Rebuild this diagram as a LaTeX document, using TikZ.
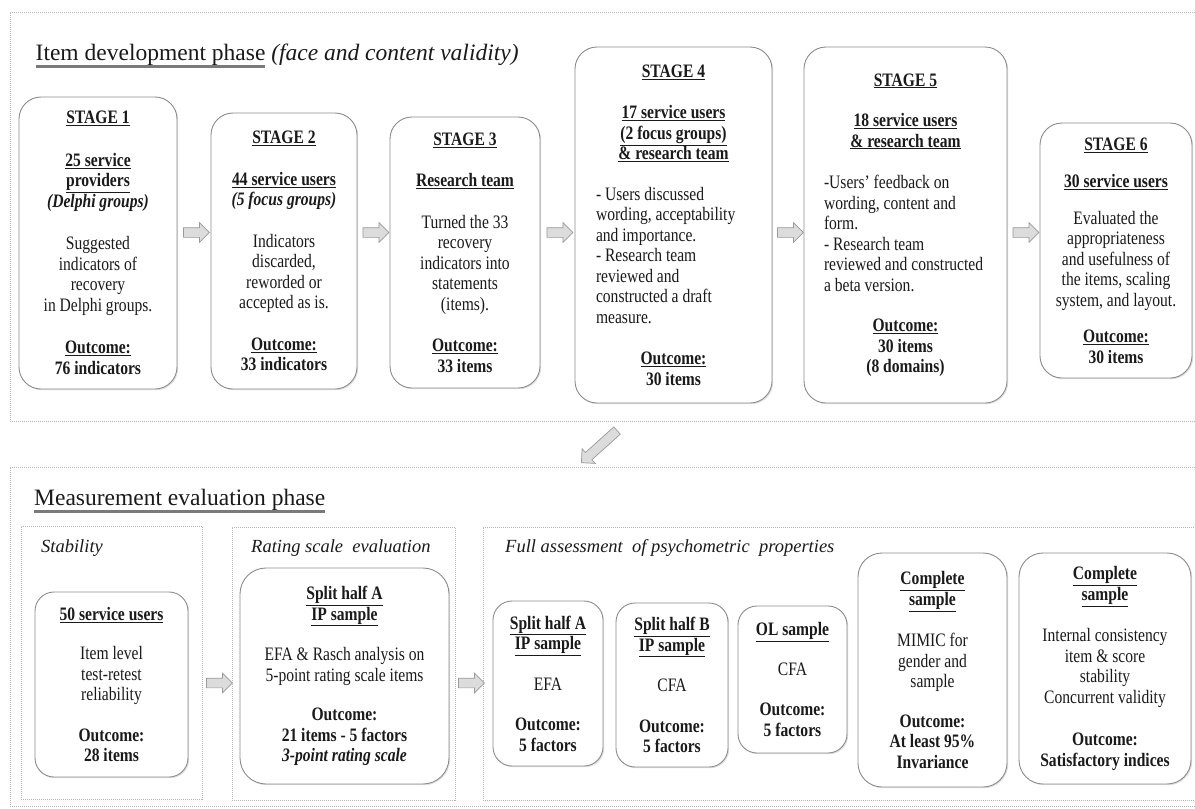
\documentclass[tikz,border=0pt]{standalone}
\usepackage{fontspec}
\setmainfont{Liberation Serif}
\newfontfamily\bodyf{Liberation Serif}[FakeStretch=0.82]
\usetikzlibrary{shapes.arrows,shadows}
\definecolor{boxgray}{HTML}{8C8C8C}
\definecolor{framegray}{HTML}{B4B4B4}
\definecolor{arrowgray}{HTML}{9A9A9A}
\definecolor{arrowfill}{HTML}{DCDCDC}
\definecolor{ulgray}{HTML}{7A7A7A}
\definecolor{txt}{HTML}{1A1A1A}
\newcommand{\ulb}[1]{\underline{\textbf{#1}}}
\newcommand{\lb}[2]{\makebox[#1][l]{#2}}
\newsavebox\gulbox
\newcommand{\gul}[1]{\sbox\gulbox{#1}\rlap{\textcolor{ulgray}{\rule[-7.5pt]{\wd\gulbox}{2.2pt}}}\usebox\gulbox}
\tikzset{
  stagebox/.style={draw=boxgray, line width=0.9pt, rounded corners=22pt, fill=white,
    align=center, inner sep=0pt, text=txt,
    font=\bodyf\fontsize{19}{20.5}\selectfont,
    drop shadow={shadow xshift=1.2pt, shadow yshift=-1.2pt, opacity=0.25}},
  smallbox/.style={stagebox, rounded corners=19pt},
  framebox/.style={draw=framegray, densely dotted, line width=1pt, inner sep=0pt},
  blockarrow/.style={single arrow, draw=arrowgray, fill=arrowfill, line width=0.7pt,
    inner sep=0pt, text height=4.5pt, text depth=4.5pt, text width=0pt,
    minimum height=26pt,
    single arrow head extend=5pt, single arrow head indent=0pt},
  heading/.style={anchor=base west, inner sep=0pt, text=txt,
    font=\fontsize{23.5}{28}\selectfont},
  sublabel/.style={anchor=base west, inner sep=0pt, text=txt,
    font=\itshape\fontsize{18.5}{22}\selectfont},
}
\begin{document}
\begin{tikzpicture}[x=1pt,y=-1pt]
\useasboundingbox (0,0) rectangle (1195,809);
\fill[white] (0,0) rectangle (1195,809);

% ---------- frames ----------
\node[framebox, minimum width=1187pt, minimum height=409pt] (ftop) at (603.5,216.5) {};
\node[framebox, minimum width=1187pt, minimum height=339pt] (fbot) at (603.5,636.5) {};
\node[framebox, minimum width=181pt, minimum height=273pt] (fstab) at (111.5,662.5) {};
\node[framebox, minimum width=223pt, minimum height=273pt] (frate) at (343.5,663.5) {};
\node[framebox, minimum width=714pt, minimum height=273pt] (ffull) at (840,663.5) {};

% ---------- headings ----------
\node[heading] (h1) at (35.5,60) {\gul{Item development phase} \textit{(face and content validity)}};
\node[heading] (h2) at (34,505) {\gul{Measurement evaluation phase}};
\node[sublabel] (l1) at (41,552) {Stability};
\node[sublabel] (l2) at (251,552) {Rating scale \ evaluation};
\node[sublabel] (l3) at (505,552) {Full assessment \ of psychometric \ properties};

% ---------- stages ----------
\node[stagebox, minimum width=158pt, minimum height=292pt] (s1) at (98,243) {%
\ulb{STAGE 1}\\[22pt]
\ulb{25 service}\\ \ulb{providers}\\ \textbf{\textit{(Delphi groups)}}\\[22pt]
Suggested\\ indicators of\\ recovery\\ in Delphi groups.\\[22pt]
\ulb{Outcome:}\\ \textbf{76 indicators}};

\node[stagebox, minimum width=146pt, minimum height=276pt] (s2) at (284,251) {%
\ulb{STAGE 2}\\[21pt]
\ulb{44 service users}\\ \textbf{\textit{(5 focus groups)}}\\[21pt]
Indicators\\ discarded,\\ reworded or\\ accepted as is.\\[21pt]
\ulb{Outcome:}\\ \textbf{33 indicators}};

\node[stagebox, minimum width=150pt, minimum height=271pt] (s3) at (465,252.5) {%
\ulb{STAGE 3}\\[21pt]
\ulb{Research team}\\[21pt]
Turned the 33\\ recovery\\ indicators into\\ statements\\ (items).\\[21pt]
\ulb{Outcome:}\\ \textbf{33 items}};

\node[stagebox, minimum width=197pt, minimum height=356pt] (s4) at (673.5,225) {%
\ulb{STAGE 4}\\[21pt]
\ulb{17 service users}\\ \ulb{(2 focus groups)}\\ \ulb{\& research team}\\[20pt]
\lb{155pt}{- Users discussed}\\ \lb{155pt}{wording, acceptability}\\
\lb{155pt}{and importance.}\\ \lb{155pt}{- Research team}\\
\lb{155pt}{reviewed and}\\ \lb{155pt}{constructed a draft}\\ \lb{155pt}{measure.}\\[21pt]
\ulb{Outcome:}\\ \textbf{30 items}};

\node[stagebox, minimum width=203pt, minimum height=356pt] (s5) at (905.5,225) {%
\ulb{STAGE 5}\\[20pt]
\ulb{18 service users}\\ \ulb{\& research team}\\[21pt]
\lb{163pt}{-Users’ feedback on}\\ \lb{163pt}{wording, content and}\\
\lb{163pt}{form.}\\ \lb{163pt}{- Research team}\\
\lb{163pt}{reviewed and constructed}\\ \lb{163pt}{a beta version.}\\[20pt]
\ulb{Outcome:}\\ \textbf{30 items}\\ \textbf{(8 domains)}};

\node[stagebox, minimum width=152pt, minimum height=255pt] (s6) at (1116,250.5) {%
\ulb{STAGE 6}\\[17pt]
\ulb{30 service users}\\[16pt]
Evaluated the\\ appropriateness\\ and usefulness of\\ the items, scaling\\ system, and layout.\\[16pt]
\ulb{Outcome:}\\ \textbf{30 items}};

% ---------- bottom boxes ----------
\node[smallbox, minimum width=153pt, minimum height=185pt] (b1) at (111.5,684.5) {%
\ulb{50 service users}\\[19pt]
Item level\\ test-retest\\ reliability\\[20pt]
\textbf{Outcome:}\\ \textbf{28 items}};

\node[smallbox, rounded corners=26pt, minimum width=209pt, minimum height=216pt] (b2) at (344.5,676) {%
\ulb{Split half A}\\ \ulb{IP sample}\\[20pt]
EFA \& Rasch analysis on\\ 5-point rating scale items\\[19pt]
\textbf{Outcome:}\\ \textbf{21 items - 5 factors}\\ \textbf{\textit{3-point rating scale}}};

\node[smallbox, minimum width=110pt, minimum height=165pt] (b3) at (548,683.5) {%
\ulb{Split half A}\\ \ulb{IP sample}\\[20pt]
EFA\\[20pt]
\textbf{Outcome:}\\ \textbf{5 factors}};

\node[smallbox, minimum width=112pt, minimum height=164pt] (b4) at (672,685) {%
\ulb{Split half B}\\ \ulb{IP sample}\\[20pt]
CFA\\[20pt]
\textbf{Outcome:}\\ \textbf{5 factors}};

\node[smallbox, minimum width=109pt, minimum height=147pt] (b5) at (792.5,679.5) {%
\ulb{OL sample}\\[19pt]
CFA\\[20pt]
\textbf{Outcome:}\\ \textbf{5 factors}};

\node[smallbox, rounded corners=24pt, minimum width=149pt, minimum height=234pt] (b6) at (932.5,670) {%
\ulb{Complete}\\ \ulb{sample}\\[21pt]
MIMIC for\\ gender and\\ sample\\[19pt]
\textbf{Outcome:}\\ \textbf{At least 95\%}\\ \textbf{Invariance}};

\node[smallbox, rounded corners=24pt, minimum width=172pt, minimum height=231pt] (b7) at (1105,668.5) {%
\ulb{Complete}\\ \ulb{sample}\\[21pt]
Internal consistency\\ item \& score\\ stability\\ Concurrent validity\\[22pt]
\textbf{Outcome:}\\ \textbf{Satisfactory indices}};

% ---------- connectors ----------
\coordinate (rowA) at (0,232.5);
\coordinate (rowB) at (0,683);
\path (s1.east |- rowA) -- node[blockarrow] {} (s2.west |- rowA);
\path (s2.east |- rowA) -- node[blockarrow] {} (s3.west |- rowA);
\path (s3.east |- rowA) -- node[blockarrow] {} (s4.west |- rowA);
\path (s4.east |- rowA) -- node[blockarrow] {} (s5.west |- rowA);
\path (s5.east |- rowA) -- node[blockarrow] {} (s6.west |- rowA);
\path (fstab.east |- rowB) -- node[blockarrow] {} (frate.west |- rowB);
\path (frate.east |- rowB) -- node[blockarrow] {} (ffull.west |- rowB);
\coordinate (dA) at (621,427);
\coordinate (dB) at (581,463);
\path (dA) -- node[blockarrow, minimum height=48pt, rotate=222] {} (dB);
\end{tikzpicture}
\end{document}
